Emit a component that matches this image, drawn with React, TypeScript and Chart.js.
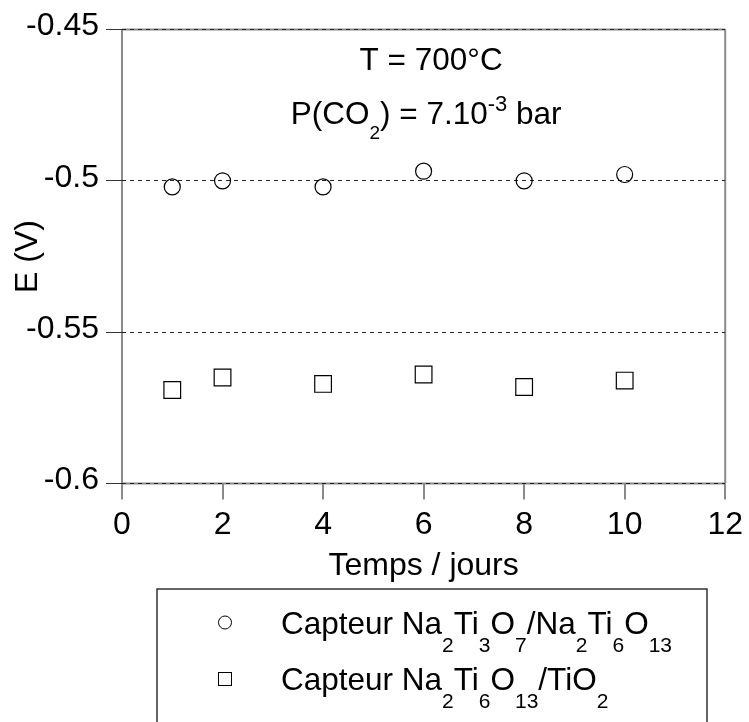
import React, { useEffect, useRef } from "react";
import { Chart, registerables } from "chart.js";

Chart.register(...registerables);

const days = [1, 2, 4, 6, 8, 10];
const capteur1 = [-0.502, -0.5, -0.502, -0.4968, -0.5, -0.4979];
const capteur2 = [-0.5691, -0.565, -0.5671, -0.564, -0.5681, -0.566];
const yTicks = [-0.45, -0.5, -0.55, -0.6];
const xTicks = [0, 2, 4, 6, 8, 10, 12];

type Seg = { t: string; k?: "sub" | "sup" };

const legend1: Seg[] = [
  { t: "Capteur Na" }, { t: "2", k: "sub" }, { t: "Ti" }, { t: "3", k: "sub" },
  { t: "O" }, { t: "7", k: "sub" }, { t: "/Na" }, { t: "2", k: "sub" },
  { t: "Ti" }, { t: "6", k: "sub" }, { t: "O" }, { t: "13", k: "sub" },
];
const legend2: Seg[] = [
  { t: "Capteur Na" }, { t: "2", k: "sub" }, { t: "Ti" }, { t: "6", k: "sub" },
  { t: "O" }, { t: "13", k: "sub" }, { t: "/TiO" }, { t: "2", k: "sub" },
];
const note1: Seg[] = [{ t: "T = 700°C" }];
const note2: Seg[] = [
  { t: "P(CO" }, { t: "2", k: "sub" }, { t: ") = 7.10" }, { t: "-3", k: "sup" }, { t: " bar" },
];

const FONT = "'Liberation Sans', Arial, sans-serif";
const SIZE = 32;

type RichOpts = { size: number; sub: number; sup: number; subDy: number; supDy: number };

function drawRich(
  ctx: CanvasRenderingContext2D,
  segs: Seg[],
  x: number,
  baseline: number,
  align: "left" | "center",
  o: RichOpts
) {
  ctx.save();
  ctx.textBaseline = "alphabetic";
  ctx.textAlign = "left";
  ctx.fillStyle = "#000";
  const fontOf = (s: Seg) => `${s.k === "sub" ? o.sub : s.k === "sup" ? o.sup : o.size}px ${FONT}`;
  const widths = segs.map((s) => {
    ctx.font = fontOf(s);
    return ctx.measureText(s.t).width;
  });
  const total = widths.reduce((a, b) => a + b, 0);
  let cx = align === "center" ? x - total / 2 : x;
  segs.forEach((s, i) => {
    ctx.font = fontOf(s);
    const by = s.k === "sub" ? baseline + o.subDy : s.k === "sup" ? baseline - o.supDy : baseline;
    ctx.fillText(s.t, cx, by);
    cx += widths[i];
  });
  ctx.restore();
}

const framePlugin = {
  id: "frame",
  beforeDraw(chart: any) {
    const { ctx, chartArea: a } = chart;
    ctx.save();
    ctx.strokeStyle = "#8a8a8a";
    ctx.lineWidth = 2;
    ctx.beginPath();
    ctx.moveTo(a.left, a.top);
    ctx.lineTo(a.right, a.top);
    ctx.moveTo(a.left, a.bottom);
    ctx.lineTo(a.right, a.bottom);
    ctx.moveTo(a.right, a.top);
    ctx.lineTo(a.right, a.bottom);
    ctx.moveTo(a.left, a.top);
    ctx.lineTo(a.left, a.bottom);
    ctx.stroke();
    ctx.restore();
  },
  afterDraw(chart: any) {
    const { ctx } = chart;
    const xs = chart.scales.x;
    const annot: RichOpts = { size: 31.5, sub: 19, sup: 22, subDy: 15, supDy: 13 };
    drawRich(ctx, note1, xs.getPixelForValue(6.15), 70, "center", annot);
    drawRich(ctx, note2, xs.getPixelForValue(6.05), 123.5, "center", annot);

    // legend box
    ctx.save();
    ctx.strokeStyle = "#333";
    ctx.lineWidth = 1.5;
    ctx.beginPath();
    ctx.moveTo(157, 730);
    ctx.lineTo(157, 589);
    ctx.lineTo(707, 589);
    ctx.lineTo(707, 730);
    ctx.stroke();
    ctx.lineWidth = 1;
    ctx.strokeStyle = "#000";
    ctx.beginPath();
    ctx.arc(225, 622.5, 6.5, 0, Math.PI * 2);
    ctx.stroke();
    ctx.strokeRect(218.5, 672.5, 13, 13);
    ctx.restore();
    const leg: RichOpts = { size: 31.5, sub: 21, sup: 21, subDy: 18, supDy: 13 };
    drawRich(ctx, legend1, 281, 633.5, "left", leg);
    drawRich(ctx, legend2, 281, 690, "left", leg);
  },
};

export default function App() {
  const ref = useRef<HTMLCanvasElement>(null);
  useEffect(() => {
    if (!ref.current) return;
    const chart = new Chart(ref.current, {
      type: "scatter",
      data: {
        datasets: [
          {
            label: "Capteur Na2Ti3O7/Na2Ti6O13",
            data: days.map((d, i) => ({ x: d, y: capteur1[i] })),
            pointStyle: "circle",
            pointRadius: 8,
            pointBorderWidth: 1.2,
            pointBorderColor: "#000",
            pointBackgroundColor: "rgba(255,255,255,0)",
            showLine: false,
          },
          {
            label: "Capteur Na2Ti6O13/TiO2",
            data: days.map((d, i) => ({ x: d, y: capteur2[i] })),
            pointStyle: "rect",
            pointRadius: 11.8,
            pointBorderWidth: 1.2,
            pointBorderColor: "#000",
            pointBackgroundColor: "rgba(255,255,255,0)",
            showLine: false,
          },
        ],
      },
      options: {
        animation: false,
        responsive: false,
        devicePixelRatio: 1,
        layout: { padding: { top: 29.5, right: 19, bottom: 136.4, left: 0 } },
        plugins: { legend: { display: false }, tooltip: { enabled: false } },
        scales: {
          x: {
            type: "linear",
            min: 0,
            max: 12,
            afterFit: (s: any) => { s.height = 102.1; },
            afterBuildTicks: (s: any) => { s.ticks = xTicks.map((v) => ({ value: v })); },
            border: { display: false },
            grid: {
              drawOnChartArea: false,
              drawTicks: true,
              tickLength: 16,
              color: "#8a8a8a",
              lineWidth: 2,
            },
            ticks: {
              padding: 6,
              color: "#000",
              font: { family: FONT, size: SIZE },
              callback: (v: any) => String(v),
            },
            title: {
              display: true,
              text: "Temps / jours",
              color: "#000",
              font: { family: FONT, size: SIZE },
              padding: 0,
            },
          },
          y: {
            type: "linear",
            min: -0.6,
            max: -0.45,
            afterFit: (s: any) => { s.width = 122; },
            afterBuildTicks: (s: any) => { s.ticks = yTicks.map((v) => ({ value: v })); },
            border: { display: false, dash: [4, 4], width: 2, color: "#8a8a8a" },
            grid: {
              drawOnChartArea: true,
              drawTicks: true,
              tickLength: 16,
              color: "#222",
              lineWidth: 1,
              tickBorderDash: [],
              tickColor: "#333",
              tickWidth: 1,
            },
            ticks: {
              padding: 7,
              labelOffset: -3,
              color: "#000",
              font: { family: FONT, size: SIZE },
              callback: (v: any) => String(v),
            },
            title: {
              display: true,
              text: "E (V)",
              color: "#000",
              font: { family: FONT, size: SIZE },
              padding: { top: 9, bottom: 0 },
            },
          },
        },
      },
      plugins: [framePlugin],
    });
    return () => chart.destroy();
  }, []);
  return (
    <div style={{ position: "absolute", left: 0, top: 0, width: 749, height: 722, background: "#fff" }}>
      <canvas ref={ref} width={749} height={722} style={{ width: 749, height: 722, display: "block" }} />
    </div>
  );
}
